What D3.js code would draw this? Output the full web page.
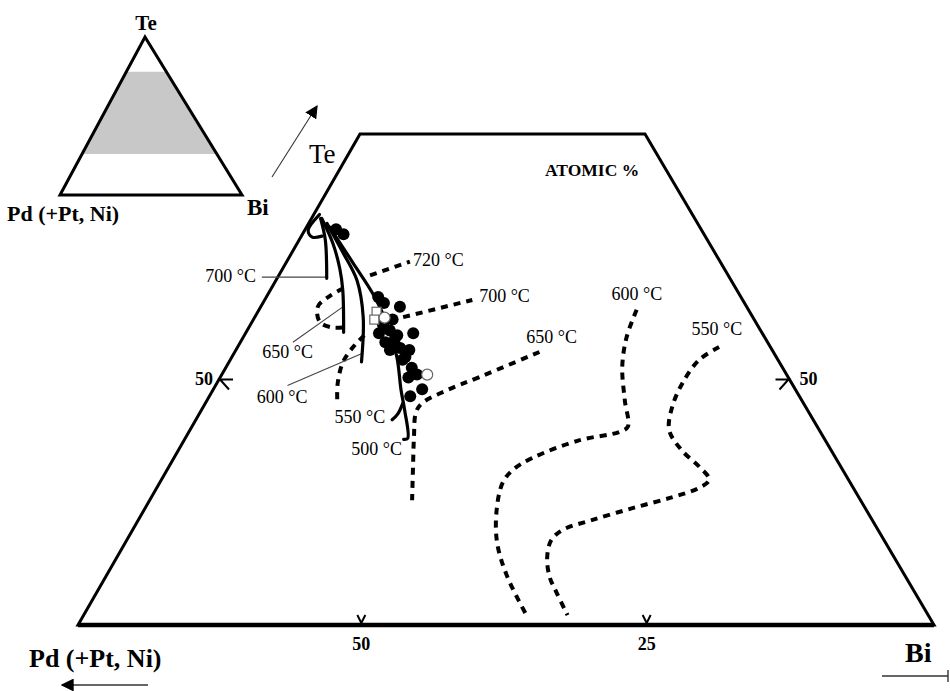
<!DOCTYPE html>
<html><head><meta charset="utf-8">
<script src="https://cdn.jsdelivr.net/npm/d3@7"></script>
<style>html,body{margin:0;padding:0;background:#fff}svg{display:block}</style>
</head><body>
<script>
// ---------- DATA (compositions in atomic %: [Te, Bi], Pd = 100 - Te - Bi) ----------
const filledPoints = [
  [65.3,2.7],[64.8,3.6],[58.4,9.8],[57.8,10.6],[57.4,12.2],[56.1,12.2],[54.7,14.7],
  [54.7,11.7],[55.0,12.5],[53.8,12.7],[54.0,13.4],[53.0,13.5],[53.2,14.3],[53.0,15.2],
  [52.0,15.1],[51.2,16.3],[50.5,17.1],[50.2,16.5],[49.0,18.3],[48.3,17.6],[55.6,11.6],
  [54.5,13.4],[52.3,15.2]
];
const openCircles = [[56.3,11.4],[50.5,18.0]];
const openSquares = [[56.9,10.4],[56.1,10.6]];

// solid trend lines
const hookJ     = [[66.8,0.5],[65.2,0.3],[64.5,1.0],[64.6,1.8]];
const trend700  = [[66.4,0.8],[64.2,2.3],[60.3,4.35]];
const trend650  = [[66.4,0.9],[63.9,3.1],[61.3,5.0],[59.1,6.35],[54.8,8.55]];
const trend600  = [[65.9,1.6],[62.9,4.5],[60.1,7.1],[56.35,9.5],[51.8,11.6]];
const trend500  = [[65.5,2.05],[61.85,5.9],[58.8,9.1],[55.7,11.9],[52.3,14.45],[48.9,16.5],[46.9,17.8],[44.0,19.5],[43.9,19.2]];
const hook550   = [[47.6,17.3],[46.5,17.4],[45.9,17.2]];

// dotted isotherms
const isoLoop   = [[59.3,6.3],[58.5,5.5],[57.4,5.0],[55.85,5.95],[55.3,7.3],[55.3,8.2]];
const isoShort  = [[54.5,10.5],[53.2,10.1],[51.7,10.0],[49.6,10.6],[47.9,11.4]];
const iso720    = [[60.6,8.0],[62.0,10.8]];
const iso700    = [[56.35,13.0],[58.1,18.2]];
const iso650    = [[52.8,26.7],[50.25,22.7],[48.9,20.5],[47.6,19.0],[46.7,18.9],[44.1,20.0],[41.1,21.4],[37.7,23.0]];
const iso600    = [[57.1,33.1],[54.3,33.6],[51.3,34.7],[47.9,36.6],[45.2,38.2],[44.65,37.7],[43.8,34.6],
                   [42.0,31.4],[40.8,30.3],[39.5,30.05],[36.7,30.9],[33.35,32.6],[29.9,35.2],[26.0,38.8]];
const iso550    = [[53.3,42.2],[52.0,41.1],[49.6,40.8],[47.2,41.1],[44.85,42.0],[42.8,44.1],[41.1,46.5],
                   [39.8,48.0],[38.95,47.5],[38.0,45.6],[36.9,42.7],[35.7,39.8],[34.7,37.7],[33.65,37.2],
                   [31.9,37.7],[29.9,38.9],[28.3,40.3],[26.0,42.4]];

// temperature labels (anchor compositions)
const tempLabels = ['700 °C','650 °C','600 °C','550 °C','500 °C','720 °C','700 °C','650 °C','600 °C','550 °C'];
const tempLabelPos = [[59.9,-6.1],[52.2,2.7],[47.6,4.5],[45.6,12.3],[42.3,15.4],[61.55,11.3],[57.9,18.9],[53.7,25.1],[58.1,30.4],[54.5,39.2]];
const leaders = [
  [[60.43,-1.4],[60.43,4.2]],
  [[53.8,4.6],[57.4,7.2]],
  [[49.4,6.3],[52.7,11.3]]
];

// axis ticks
const bottomTicks = [[25,25],[25,50]];
const bottomTickLabels = ['50','25'];
const leftTicks = [[50,0]];
const rightTicks = [[50,50]];
const sideTickLabels = ['50'];

// plotted Te range of the main diagram and inset band
const teRange = [25,75];
const insetBand = [26,78];

// ---------- DRAWING ----------
const W = 950, H = 691;
const svg = d3.select('body').append('svg').attr('width',W).attr('height',H)
  .style('background','#fff');
const FONT = "'Liberation Serif','Times New Roman',serif";

const yS = d3.scaleLinear().domain(teRange).range([625,134]);
const xLeft = d3.scaleLinear().domain(teRange).range([78,360]);
const xRight = d3.scaleLinear().domain(teRange).range([934,645]);
const proj = (te,bi) => { const xl=xLeft(te), xr=xRight(te); return [xl + bi/(100-te)*(xr-xl), yS(te)]; };

const lineSmooth = d3.line().x(d=>proj(d[0],d[1])[0]).y(d=>proj(d[0],d[1])[1]).curve(d3.curveCatmullRom.alpha(0.5));
const lineStraight = d3.line().x(d=>proj(d[0],d[1])[0]).y(d=>proj(d[0],d[1])[1]);

// frame
const frame = [[teRange[0],0],[teRange[0],100-teRange[0]],[teRange[1],100-teRange[1]],[teRange[1],0]];
svg.append('path').attr('d', lineStraight(frame)+'Z').attr('fill','none')
  .attr('stroke','#000').attr('stroke-width',3).attr('stroke-linejoin','miter');
svg.append('path').attr('d', lineStraight([frame[0],frame[1]])).attr('stroke','#000').attr('stroke-width',4.5);

// ticks
const tickG = svg.append('g').attr('stroke','#000').attr('stroke-width',2).attr('fill','none');
bottomTicks.forEach((t,i)=>{
  const [x,y]=proj(t[0],t[1]);
  tickG.append('path').attr('d',`M${x-6},${y-10}L${x-2},${y-2}L${x+2},${y-10}`);
  svg.append('text').attr('x',x-2).attr('y',y+25).attr('text-anchor','middle')
    .attr('font-family',FONT).attr('font-size',18).attr('font-weight','bold').text(bottomTickLabels[i]);
});
leftTicks.forEach((t,i)=>{
  const [x,y]=proj(t[0],t[1]);
  tickG.append('path').attr('d',`M${x+14},${y}L${x+1},${y}L${x+10},${y+10}`);
  svg.append('text').attr('x',x-6).attr('y',y+5).attr('text-anchor','end')
    .attr('font-family',FONT).attr('font-size',18).attr('font-weight','bold').text(sideTickLabels[i]);
});
rightTicks.forEach((t,i)=>{
  const [x,y]=proj(t[0],t[1]);
  tickG.append('path').attr('d',`M${x-14},${y}L${x-1},${y}L${x-10},${y+10}`);
  svg.append('text').attr('x',x+10).attr('y',y+5).attr('text-anchor','start')
    .attr('font-family',FONT).attr('font-size',18).attr('font-weight','bold').text(sideTickLabels[i]);
});

// dotted isotherms
[isoLoop,isoShort,iso720,iso700,iso650,iso600,iso550].forEach(c=>{
  svg.append('path').attr('d',lineSmooth(c)).attr('fill','none').attr('stroke','#000')
    .attr('stroke-width',4).attr('stroke-dasharray','7,6');
});

// leaders
leaders.forEach(l=>{
  svg.append('path').attr('d',lineStraight(l)).attr('stroke','#444').attr('stroke-width',1.1).attr('fill','none');
});

// solid trends
[hookJ,trend700,trend650,trend600,trend500,hook550].forEach(c=>{
  svg.append('path').attr('d',lineSmooth(c)).attr('fill','none').attr('stroke','#000')
    .attr('stroke-width',3.2).attr('stroke-linecap','round');
});

// points
svg.append('g').selectAll('circle.f').data(filledPoints).join('circle')
  .attr('cx',d=>proj(d[0],d[1])[0]).attr('cy',d=>proj(d[0],d[1])[1]).attr('r',6).attr('fill','#000');
svg.append('g').selectAll('rect').data(openSquares).join('rect')
  .attr('x',d=>proj(d[0],d[1])[0]-4.5).attr('y',d=>proj(d[0],d[1])[1]-4.5).attr('width',9).attr('height',9)
  .attr('fill','#fff').attr('stroke','#666').attr('stroke-width',1.2);
svg.append('g').selectAll('circle.o').data(openCircles).join('circle')
  .attr('cx',d=>proj(d[0],d[1])[0]).attr('cy',d=>proj(d[0],d[1])[1]).attr('r',5.5)
  .attr('fill','#fff').attr('stroke','#666').attr('stroke-width',1.2);

// temperature labels
tempLabels.forEach((t,i)=>{
  const [x,y]=proj(tempLabelPos[i][0],tempLabelPos[i][1]);
  svg.append('text').attr('x',x).attr('y',y).attr('font-family',FONT).attr('font-size',18).text(t);
});

// ATOMIC %
svg.append('text').attr('x',545).attr('y',176).attr('font-family',FONT).attr('font-size',17.5)
  .attr('font-weight','bold').text('ATOMIC %');

// corner labels & arrows
const defs = svg.append('defs');
defs.append('marker').attr('id','ah').attr('viewBox','0 0 10 10').attr('refX',9).attr('refY',5)
  .attr('markerWidth',13).attr('markerHeight',13).attr('orient','auto-start-reverse').attr('markerUnits','userSpaceOnUse')
  .append('path').attr('d','M0,0L10,5L0,10Z').attr('fill','#000');

svg.append('text').attr('x',309).attr('y',163).attr('font-family',FONT).attr('font-size',27).text('Te');
svg.append('line').attr('x1',272).attr('y1',177).attr('x2',317).attr('y2',106)
  .attr('stroke','#333').attr('stroke-width',1.1).attr('marker-end','url(#ah)');

svg.append('text').attr('x',29).attr('y',667).attr('font-family',FONT).attr('font-size',26)
  .attr('font-weight','bold').text('Pd (+Pt, Ni)');
svg.append('line').attr('x1',148).attr('y1',685).attr('x2',62).attr('y2',685)
  .attr('stroke','#333').attr('stroke-width',1.6).attr('marker-end','url(#ah)');

svg.append('text').attr('x',905).attr('y',662).attr('font-family',FONT).attr('font-size',28)
  .attr('font-weight','bold').text('Bi');
svg.append('line').attr('x1',882).attr('y1',676).attr('x2',948).attr('y2',676).attr('stroke','#333').attr('stroke-width',1.4);
svg.append('line').attr('x1',948).attr('y1',670).attr('x2',948).attr('y2',682).attr('stroke','#333').attr('stroke-width',1.4);

// ---------- INSET ----------
const iY = d3.scaleLinear().domain([0,100]).range([195,37]);
const iL = d3.scaleLinear().domain([0,100]).range([60,145]);
const iR = d3.scaleLinear().domain([0,100]).range([242,145]);
const band = [[iL(insetBand[0]),iY(insetBand[0])],[iR(insetBand[0]),iY(insetBand[0])],
              [iR(insetBand[1]),iY(insetBand[1])],[iL(insetBand[1]),iY(insetBand[1])]];
svg.append('polygon').attr('points',band.map(p=>p.join(',')).join(' ')).attr('fill','#c8c8c8');
const tri = [[iL(0),iY(0)],[iR(0),iY(0)],[iL(100),iY(100)]];
svg.append('polygon').attr('points',tri.map(p=>p.join(',')).join(' ')).attr('fill','none')
  .attr('stroke','#000').attr('stroke-width',3).attr('stroke-linejoin','miter');
svg.append('text').attr('x',146).attr('y',30).attr('text-anchor','middle').attr('font-family',FONT)
  .attr('font-size',21).attr('font-weight','bold').text('Te');
svg.append('text').attr('x',7).attr('y',221).attr('font-family',FONT).attr('font-size',22)
  .attr('font-weight','bold').text('Pd (+Pt, Ni)');
svg.append('text').attr('x',247).attr('y',215).attr('font-family',FONT).attr('font-size',23)
  .attr('font-weight','bold').text('Bi');
</script>
</body></html>
